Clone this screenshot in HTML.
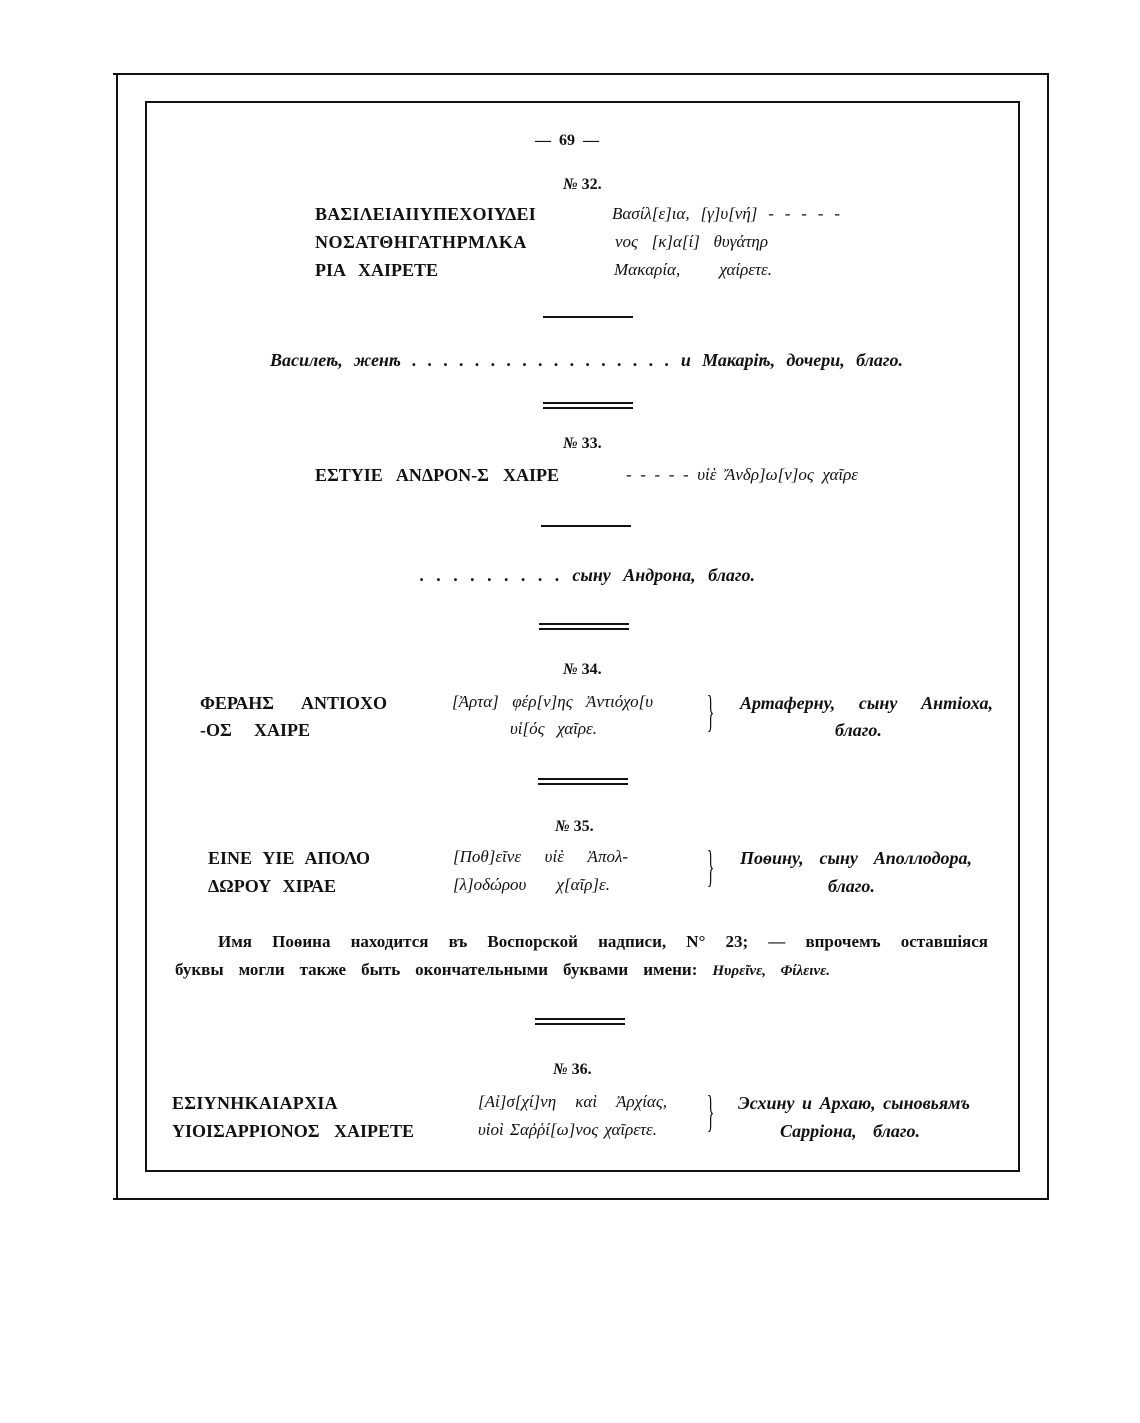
<!DOCTYPE html>
<html><head><meta charset="utf-8"><style>
html,body{margin:0;padding:0;background:#fff;}
body{width:1140px;height:1423px;position:relative;overflow:hidden;font-family:"Liberation Serif",serif;color:#111;}
.l{position:absolute;background:#111;}
.t{position:absolute;white-space:nowrap;line-height:1;}
.j{position:absolute;line-height:1;text-align:justify;text-align-last:justify;white-space:normal;height:20px;overflow:visible;}
.b{font-weight:bold;font-size:18px;}
.g{font-size:17px;font-style:italic;}
.r{font-weight:bold;font-style:italic;font-size:18px;}
.n{font-weight:bold;font-size:16px;}
.br{position:absolute;font-size:44px;line-height:1;transform:scaleX(0.35);}
</style></head><body>
<div class="l" style="left:113px;top:73px;width:936px;height:2px"></div>
<div class="l" style="left:116px;top:74px;width:2px;height:1126px"></div>
<div class="l" style="left:1047px;top:74px;width:2px;height:1126px"></div>
<div class="l" style="left:113px;top:1198px;width:936px;height:2px"></div>
<div class="l" style="left:145px;top:101px;width:875px;height:2px"></div>
<div class="l" style="left:145px;top:101px;width:2px;height:1071px"></div>
<div class="l" style="left:1018px;top:101px;width:2px;height:1071px"></div>
<div class="l" style="left:145px;top:1170px;width:875px;height:2px"></div>

<div class="t n" style="left:535px;top:133px">—&nbsp; 69 &nbsp;—</div>

<div class="t n" style="left:563px;top:177px"><i>№</i> 32.</div>
<div class="t b" style="left:315px;top:205px;letter-spacing:0.2px">ΒΑΣΙΛΕΙΑΙΙΥΠΕΧΟΙΥΔΕΙ</div>
<div class="t b" style="left:315px;top:233px;letter-spacing:0.5px">ΝΟΣΑΤΘΗΓΑΤΗΡΜΛΚΑ</div>
<div class="j b" style="left:315px;top:261px;width:123px">ΡΙΑ ΧΑΙΡΕΤΕ</div>
<div class="j g" style="left:612px;top:205px;width:228px">Βασίλ[ε]ια, [γ]υ[νή] - - - - -</div>
<div class="j g" style="left:615px;top:233px;width:153px">νος [κ]α[ί] θυγάτηρ</div>
<div class="j g" style="left:614px;top:261px;width:158px">Μακαρία, χαίρετε.</div>

<div class="l" style="left:543px;top:316px;width:90px;height:2px"></div>
<div class="j r" style="left:270px;top:351px;width:633px">Василеѣ, женѣ . . . . . . . . . . . . . . . . . и Макаріѣ, дочери, благо.</div>
<div class="l" style="left:543px;top:402px;width:90px;height:2px"></div>
<div class="l" style="left:543px;top:407px;width:90px;height:2px"></div>

<div class="t n" style="left:563px;top:436px"><i>№</i> 33.</div>
<div class="j b" style="left:315px;top:466px;width:244px">ΕΣΤΥΙΕ ΑΝΔΡΟΝ-Σ ΧΑΙΡΕ</div>
<div class="j g" style="left:626px;top:466px;width:232px">- - - - - υἱὲ Ἄνδρ]ω[ν]ος χαῖρε</div>

<div class="l" style="left:541px;top:525px;width:90px;height:2px"></div>
<div class="j r" style="left:420px;top:566px;width:335px">. . . . . . . . . сыну Андрона, благо.</div>
<div class="l" style="left:539px;top:623px;width:90px;height:2px"></div>
<div class="l" style="left:539px;top:628px;width:90px;height:2px"></div>

<div class="t n" style="left:563px;top:662px"><i>№</i> 34.</div>
<div class="j b" style="left:200px;top:694px;width:187px">ΦΕΡΑΗΣ ΑΝΤΙΟΧΟ</div>
<div class="j b" style="left:200px;top:721px;width:110px">-ΟΣ ΧΑΙΡΕ</div>
<div class="j g" style="left:452px;top:693px;width:201px">[Ἀρτα] φέρ[ν]ης Ἀντιόχο[υ</div>
<div class="j g" style="left:510px;top:720px;width:87px">υἱ[ός χαῖρε.</div>
<div class="br" style="left:700px;top:690px">}</div>
<div class="j r" style="left:740px;top:694px;width:253px">Артаферну, сыну Антіоха,</div>
<div class="t r" style="left:835px;top:721px">благо.</div>
<div class="l" style="left:538px;top:778px;width:90px;height:2px"></div>
<div class="l" style="left:538px;top:783px;width:90px;height:2px"></div>

<div class="t n" style="left:555px;top:819px"><i>№</i> 35.</div>
<div class="j b" style="left:208px;top:849px;width:162px">ΕΙΝΕ ΥΙΕ ΑΠΟΛΟ</div>
<div class="j b" style="left:208px;top:877px;width:128px">ΔΩΡΟΥ ΧΙΡΑΕ</div>
<div class="j g" style="left:453px;top:848px;width:175px">[Ποθ]εῖνε υἱὲ Ἀπολ-</div>
<div class="j g" style="left:453px;top:876px;width:157px">[λ]οδώρου χ[αῖρ]ε.</div>
<div class="br" style="left:700px;top:845px">}</div>
<div class="j r" style="left:740px;top:849px;width:232px">Поѳину, сыну Аполлодора,</div>
<div class="t r" style="left:828px;top:877px">благо.</div>

<div class="j" style="left:218px;top:933px;width:770px;font-weight:bold;font-size:17px">Имя Поѳина находится въ Воспорской надписи, N° 23; — впрочемъ оставшіяся</div>
<div class="j" style="left:175px;top:961px;width:655px;font-weight:bold;font-size:17px">буквы могли также быть окончательными буквами имени: <span style="font-size:15px;font-style:italic">Ηυρεῖνε, Φίλεινε.</span></div>

<div class="l" style="left:535px;top:1018px;width:90px;height:2px"></div>
<div class="l" style="left:535px;top:1023px;width:90px;height:2px"></div>

<div class="t n" style="left:553px;top:1062px"><i>№</i> 36.</div>
<div class="t b" style="left:172px;top:1094px;letter-spacing:0.3px">ΕΣΙΥΝΗΚΑΙΑΡΧΙΑ</div>
<div class="j b" style="left:172px;top:1122px;width:242px">ΥΙΟΙΣΑΡΡΙΟΝΟΣ ΧΑΙΡΕΤΕ</div>
<div class="j g" style="left:478px;top:1093px;width:189px">[Αἰ]σ[χί]νη καὶ Ἀρχίας,</div>
<div class="j g" style="left:478px;top:1121px;width:179px">υἱοὶ Σαῤῥί[ω]νος χαῖρετε.</div>
<div class="br" style="left:700px;top:1090px">}</div>
<div class="j r" style="left:738px;top:1094px;width:232px">Эсхину и Архаю, сыновьямъ</div>
<div class="j r" style="left:780px;top:1122px;width:140px">Сарріона, благо.</div>
</body></html>
